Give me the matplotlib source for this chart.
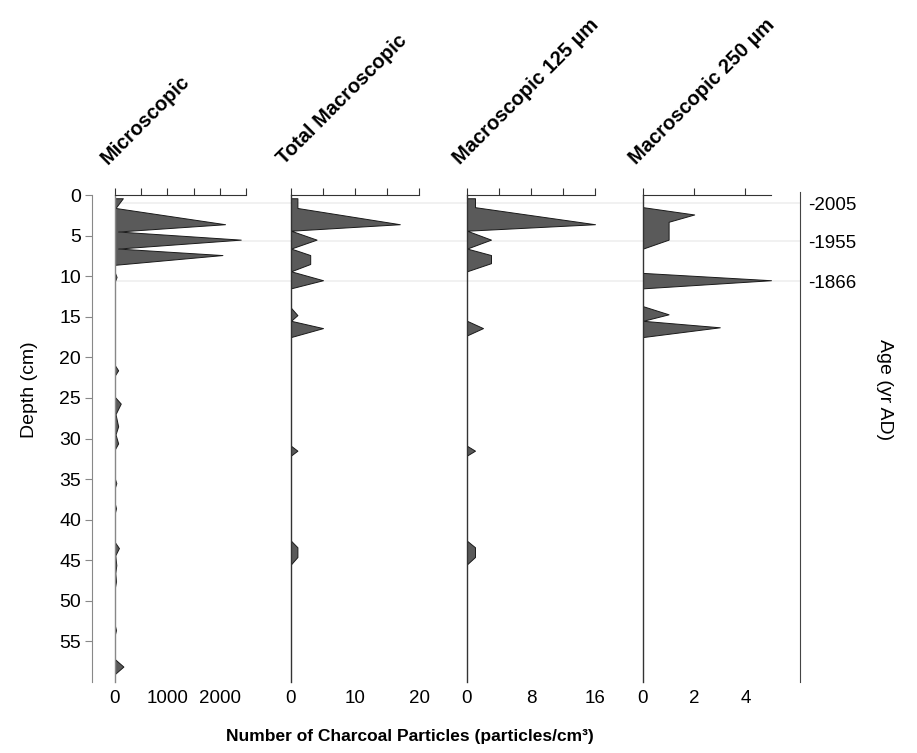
import matplotlib.pyplot as plt
from matplotlib.ticker import FixedLocator, MultipleLocator

plt.rcParams['font.family'] = ['Liberation Sans', 'DejaVu Sans']

# ---- data (depth in cm, counts in particles/cm3) ----
names = ['Microscopic', 'Total Macroscopic', 'Macroscopic 125 µm', 'Macroscopic 250 µm']

micro_depth = [0.4, 1.6, 3.6, 4.5, 5.5, 6.6, 7.4, 8.6, 9.6, 10.1, 10.6,
               21.0, 21.6, 22.2, 24.9, 25.7, 27.0, 28.5, 29.5, 30.6, 31.3,
               35.0, 35.5, 36.0, 38.1, 38.6, 39.1,
               42.8, 43.5, 44.4, 45.6, 46.6, 47.6, 48.3,
               53.1, 53.6, 54.1, 57.2, 58.1, 59.0]
micro_val = [150, 10, 2100, 60, 2400, 60, 2050, 0, 0, 30, 0,
             0, 60, 0, 0, 110, 10, 60, 10, 60, 0,
             0, 25, 0, 0, 20, 0,
             0, 75, 5, 25, 5, 20, 0,
             0, 20, 0, 0, 160, 0]

total_depth = [0.4, 1.6, 3.6, 4.4, 5.5, 6.6, 7.4, 8.5, 9.4, 10.5, 11.5,
               13.9, 14.8, 15.5, 16.4, 17.5, 30.9, 31.5, 32.1,
               42.6, 43.4, 44.6, 45.5]
total_val = [1, 1, 17, 0, 4, 0, 3, 3, 0, 5, 0,
             0, 1, 0, 5, 0, 0, 1, 0,
             0, 1, 1, 0]

m125_depth = [0.4, 1.5, 3.6, 4.4, 5.5, 6.6, 7.4, 8.4, 9.4,
              15.5, 16.4, 17.3, 30.9, 31.5, 32.1, 42.6, 43.4, 44.6, 45.5]
m125_val = [1, 1, 16, 0, 3, 0, 3, 3, 0,
            0, 2, 0, 0, 1, 0, 0, 1, 1, 0]

m250_depth = [1.5, 2.4, 3.3, 5.5, 6.6, 9.6, 10.5, 11.5,
              13.7, 14.7, 15.5, 16.3, 17.5]
m250_val = [0, 2, 1, 1, 0, 0, 5, 0,
            0, 1, 0, 3, 0]

series = [(micro_depth, micro_val), (total_depth, total_val),
          (m125_depth, m125_val), (m250_depth, m250_val)]

x_max = [2500, 20, 16, 5]
top_step = [500, 5, 4, 2]
bottom_ticks = [[0, 1000, 2000], [0, 10, 20], [0, 8, 16], [0, 2, 4]]

depth_ticks = list(range(0, 60, 5))
depth_max = 60
age_depth = [1.0, 5.7, 10.6]
age_labels = ['-2005', '-1955', '-1866']

# ---- layout (pixels of a 917x753 figure) ----
W, H = 917, 753
fig = plt.figure(figsize=(W / 100, H / 100), dpi=100)


def box(left, width, top=195, bottom=682):
    return [left / W, 1 - bottom / H, width / W, (bottom - top) / H]


lefts = [115, 291, 467, 643]
widths = [131, 128, 128, 128]

# faint marker lines behind the panels
bg = fig.add_axes(box(115, 685))
bg.set_ylim(depth_max, 0)
bg.axis('off')
for d in age_depth:
    bg.axhline(d, color='#efefef', lw=1.2, zorder=0)

for i, (d, v) in enumerate(series):
    ax = fig.add_axes(box(lefts[i], widths[i]))
    ax.patch.set_alpha(0)
    ax.fill_betweenx(d, 0, v, facecolor='#5a5a5a', edgecolor='#1a1a1a', linewidth=0.7)
    ax.set_xlim(0, x_max[i])
    ax.set_ylim(depth_max, 0)
    ax.set_yticks([])
    ax.xaxis.set_major_locator(FixedLocator(bottom_ticks[i]))
    ax.xaxis.set_minor_locator(MultipleLocator(top_step[i]))
    ax.tick_params(axis='x', which='both', top=True, bottom=False,
                   labeltop=False, labelbottom=True, direction='out',
                   length=5, width=0.8, color='#333333', labelsize=13.5, pad=1)
    ax.spines['right'].set_visible(False)
    ax.spines['bottom'].set_visible(False)
    spc = '#888888' if i == 0 else '#333333'
    ax.spines['left'].set_color(spc)
    ax.spines['top'].set_color('#333333')
    ax.spines['left'].set_linewidth(1.0)
    ax.spines['top'].set_linewidth(0.8)
    fig.text((lefts[i] - 4) / W, 1 - 168 / H, names[i], rotation=45,
             rotation_mode='anchor', ha='left', va='bottom',
             fontsize=14.5, fontweight='bold')

# depth axis
dax = fig.add_axes(box(92, 0.01))
dax.set_ylim(depth_max, 0)
dax.set_yticks(depth_ticks)
dax.set_xticks([])
for s in ['top', 'right', 'bottom']:
    dax.spines[s].set_visible(False)
dax.spines['left'].set_color('#888888')
dax.tick_params(axis='y', length=5, color='#888888', labelsize=14, pad=3)

# age axis
aax = fig.add_axes(box(800, 0.01, top=192))
aax.set_ylim(depth_max, -3 / 8.12)
aax.set_yticks(age_depth)
aax.set_yticklabels(age_labels)
aax.set_xticks([])
for s in ['top', 'right', 'bottom']:
    aax.spines[s].set_visible(False)
aax.spines['left'].set_color('#444444')
aax.tick_params(axis='y', left=False, right=False, labelleft=False,
                labelright=True, labelsize=13.5, pad=2)

fig.text(30 / W, 1 - 390 / H, 'Depth (cm)', rotation=90, ha='center', va='center', fontsize=14)
fig.text(885 / W, 1 - 390 / H, 'Age (yr AD)', rotation=270, ha='center', va='center', fontsize=14)
fig.text(410 / W, 1 - 737 / H, 'Number of Charcoal Particles (particles/cm³)',
         ha='center', va='center', fontsize=12.5, fontweight='bold')

fig.savefig('out.png', dpi=100)
